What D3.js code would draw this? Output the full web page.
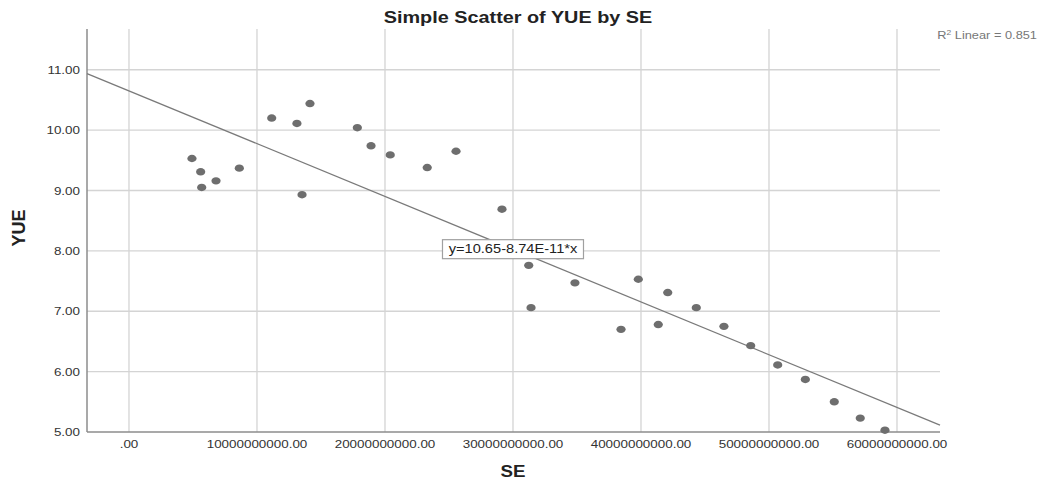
<!DOCTYPE html>
<head>
<meta charset="utf-8">
<title>Simple Scatter of YUE by SE</title>
<style>
body { margin: 0; background: #fff; }
text { font-family: "Liberation Sans", Arial, sans-serif; }
.grid line { stroke: #d4d4d4; stroke-width: 1.3px; }
.axisline { stroke: #8c8c8c; stroke-width: 1.5px; }
.fit { stroke: #7a7a7a; stroke-width: 1.3px; fill: none; }
.dot { fill: #6e6e6e; }
.tick-label { font-size: 11px; fill: #333; }
</style>
</head>
<body>
<script src="https://cdn.jsdelivr.net/npm/d3@7"></script>
<script>
// values
var seValues = [4.92e9, 5.60e9, 5.68e9, 6.80e9, 8.62e9, 11.15e9, 13.12e9, 13.52e9, 14.14e9,
                17.84e9, 18.91e9, 20.41e9, 23.30e9, 25.55e9, 29.14e9, 31.23e9, 31.41e9,
                34.84e9, 38.44e9, 39.79e9, 41.35e9, 42.09e9, 44.32e9, 46.48e9, 48.57e9,
                50.68e9, 52.84e9, 55.10e9, 57.13e9, 59.06e9];
var yueValues = [9.53, 9.31, 9.05, 9.16, 9.37, 10.20, 10.11, 8.93, 10.44,
                 10.04, 9.74, 9.59, 9.38, 9.65, 8.69, 7.76, 7.06,
                 7.47, 6.70, 7.53, 6.78, 7.31, 7.06, 6.75, 6.43,
                 6.11, 5.87, 5.50, 5.23, 5.03];
var xTicks = [0, 1e10, 2e10, 3e10, 4e10, 5e10, 6e10];
var xTickLabels = [".00", "10000000000.00", "20000000000.00", "30000000000.00",
                   "40000000000.00", "50000000000.00", "60000000000.00"];
var yTicks = [5, 6, 7, 8, 9, 10, 11];
var yTickLabels = ["5.00", "6.00", "7.00", "8.00", "9.00", "10.00", "11.00"];
var intercept = 10.65, slope = -8.74e-11, rSquared = "0.851";

var width = 1045, height = 480;
var plotLeft = 87, plotRight = 940, plotTop = 29, plotBottom = 432;
var sx = 1.22; // the picture is stretched sideways, text too

var x = d3.scaleLinear().domain([-3.28e9, 6.336e10]).range([plotLeft, plotRight]);
var y = d3.scaleLinear().domain([5, 11.675]).range([plotBottom, plotTop]);

var svg = d3.select("body").append("svg")
    .attr("width", width)
    .attr("height", height);

// gridlines
var grid = svg.append("g").attr("class", "grid");
grid.selectAll(".vg").data(xTicks).enter().append("line")
    .attr("x1", function(d) { return x(d); })
    .attr("x2", function(d) { return x(d); })
    .attr("y1", plotTop).attr("y2", plotBottom);
grid.selectAll(".hg").data(yTicks.slice(1)).enter().append("line")
    .attr("x1", plotLeft).attr("x2", plotRight)
    .attr("y1", function(d) { return y(d); })
    .attr("y2", function(d) { return y(d); });

// axis lines
svg.append("line").attr("class", "axisline")
    .attr("x1", plotLeft).attr("x2", plotLeft).attr("y1", plotTop).attr("y2", plotBottom);
svg.append("line").attr("class", "axisline")
    .attr("x1", plotLeft).attr("x2", plotRight).attr("y1", plotBottom).attr("y2", plotBottom);

// tick labels
svg.selectAll(".xl").data(xTicks).enter().append("text")
    .attr("class", "tick-label")
    .attr("text-anchor", "middle")
    .attr("transform", function(d) { return "translate(" + x(d) + ",448) scale(" + sx + ",1)"; })
    .text(function(d, i) { return xTickLabels[i]; });
svg.selectAll(".yl").data(yTicks).enter().append("text")
    .attr("class", "tick-label")
    .attr("text-anchor", "end")
    .attr("transform", function(d) { return "translate(80," + (y(d) + 4) + ") scale(" + sx + ",1)"; })
    .text(function(d, i) { return yTickLabels[i]; });

// fit line
var fit = function(v) { return intercept + slope * v; };
var x0 = x.domain()[0], x1 = x.domain()[1];
svg.append("line").attr("class", "fit")
    .attr("x1", x(x0)).attr("y1", y(fit(x0)))
    .attr("x2", x(x1)).attr("y2", y(fit(x1)));

// points
svg.selectAll(".dot").data(seValues).enter().append("ellipse")
    .attr("class", "dot")
    .attr("cx", function(d) { return x(d); })
    .attr("cy", function(d, i) { return y(yueValues[i]); })
    .attr("rx", 4.6).attr("ry", 3.7);

// equation label, centred on the line at 3e10
var ex = x(3e10), ey = y(fit(3e10));
svg.append("rect")
    .attr("x", ex - 70.5).attr("y", ey - 9.5)
    .attr("width", 141).attr("height", 19)
    .style("fill", "#fff").style("stroke", "#a0a0a0").style("stroke-width", 1.2);
svg.append("text")
    .attr("text-anchor", "middle")
    .attr("transform", "translate(" + ex + "," + (ey + 4.3) + ") scale(" + sx + ",1)")
    .style("font-size", "12px").style("fill", "#222")
    .text("y=10.65-8.74E-11*x");

// R squared
var r2 = svg.append("text")
    .attr("text-anchor", "end")
    .attr("transform", "translate(1037,39) scale(" + sx + ",1)")
    .style("font-size", "10.5px").style("fill", "#777");
r2.append("tspan").text("R");
r2.append("tspan").attr("dy", -4).style("font-size", "7px").text("2");
r2.append("tspan").attr("dy", 4).text(" Linear = " + rSquared);

// titles
svg.append("text")
    .attr("text-anchor", "middle")
    .attr("transform", "translate(518,22.5) scale(1.24,1)")
    .style("font-size", "16px").style("font-weight", "bold").style("fill", "#222")
    .text("Simple Scatter of YUE by SE");
svg.append("text")
    .attr("text-anchor", "middle")
    .attr("transform", "translate(513,477) scale(1.1,1)")
    .style("font-size", "17px").style("font-weight", "bold").style("fill", "#222")
    .text("SE");
svg.append("text")
    .attr("text-anchor", "middle")
    .attr("transform", "translate(25,228) rotate(-90)")
    .style("font-size", "18px").style("font-weight", "bold").style("fill", "#222")
    .text("YUE");
</script>
</body>
